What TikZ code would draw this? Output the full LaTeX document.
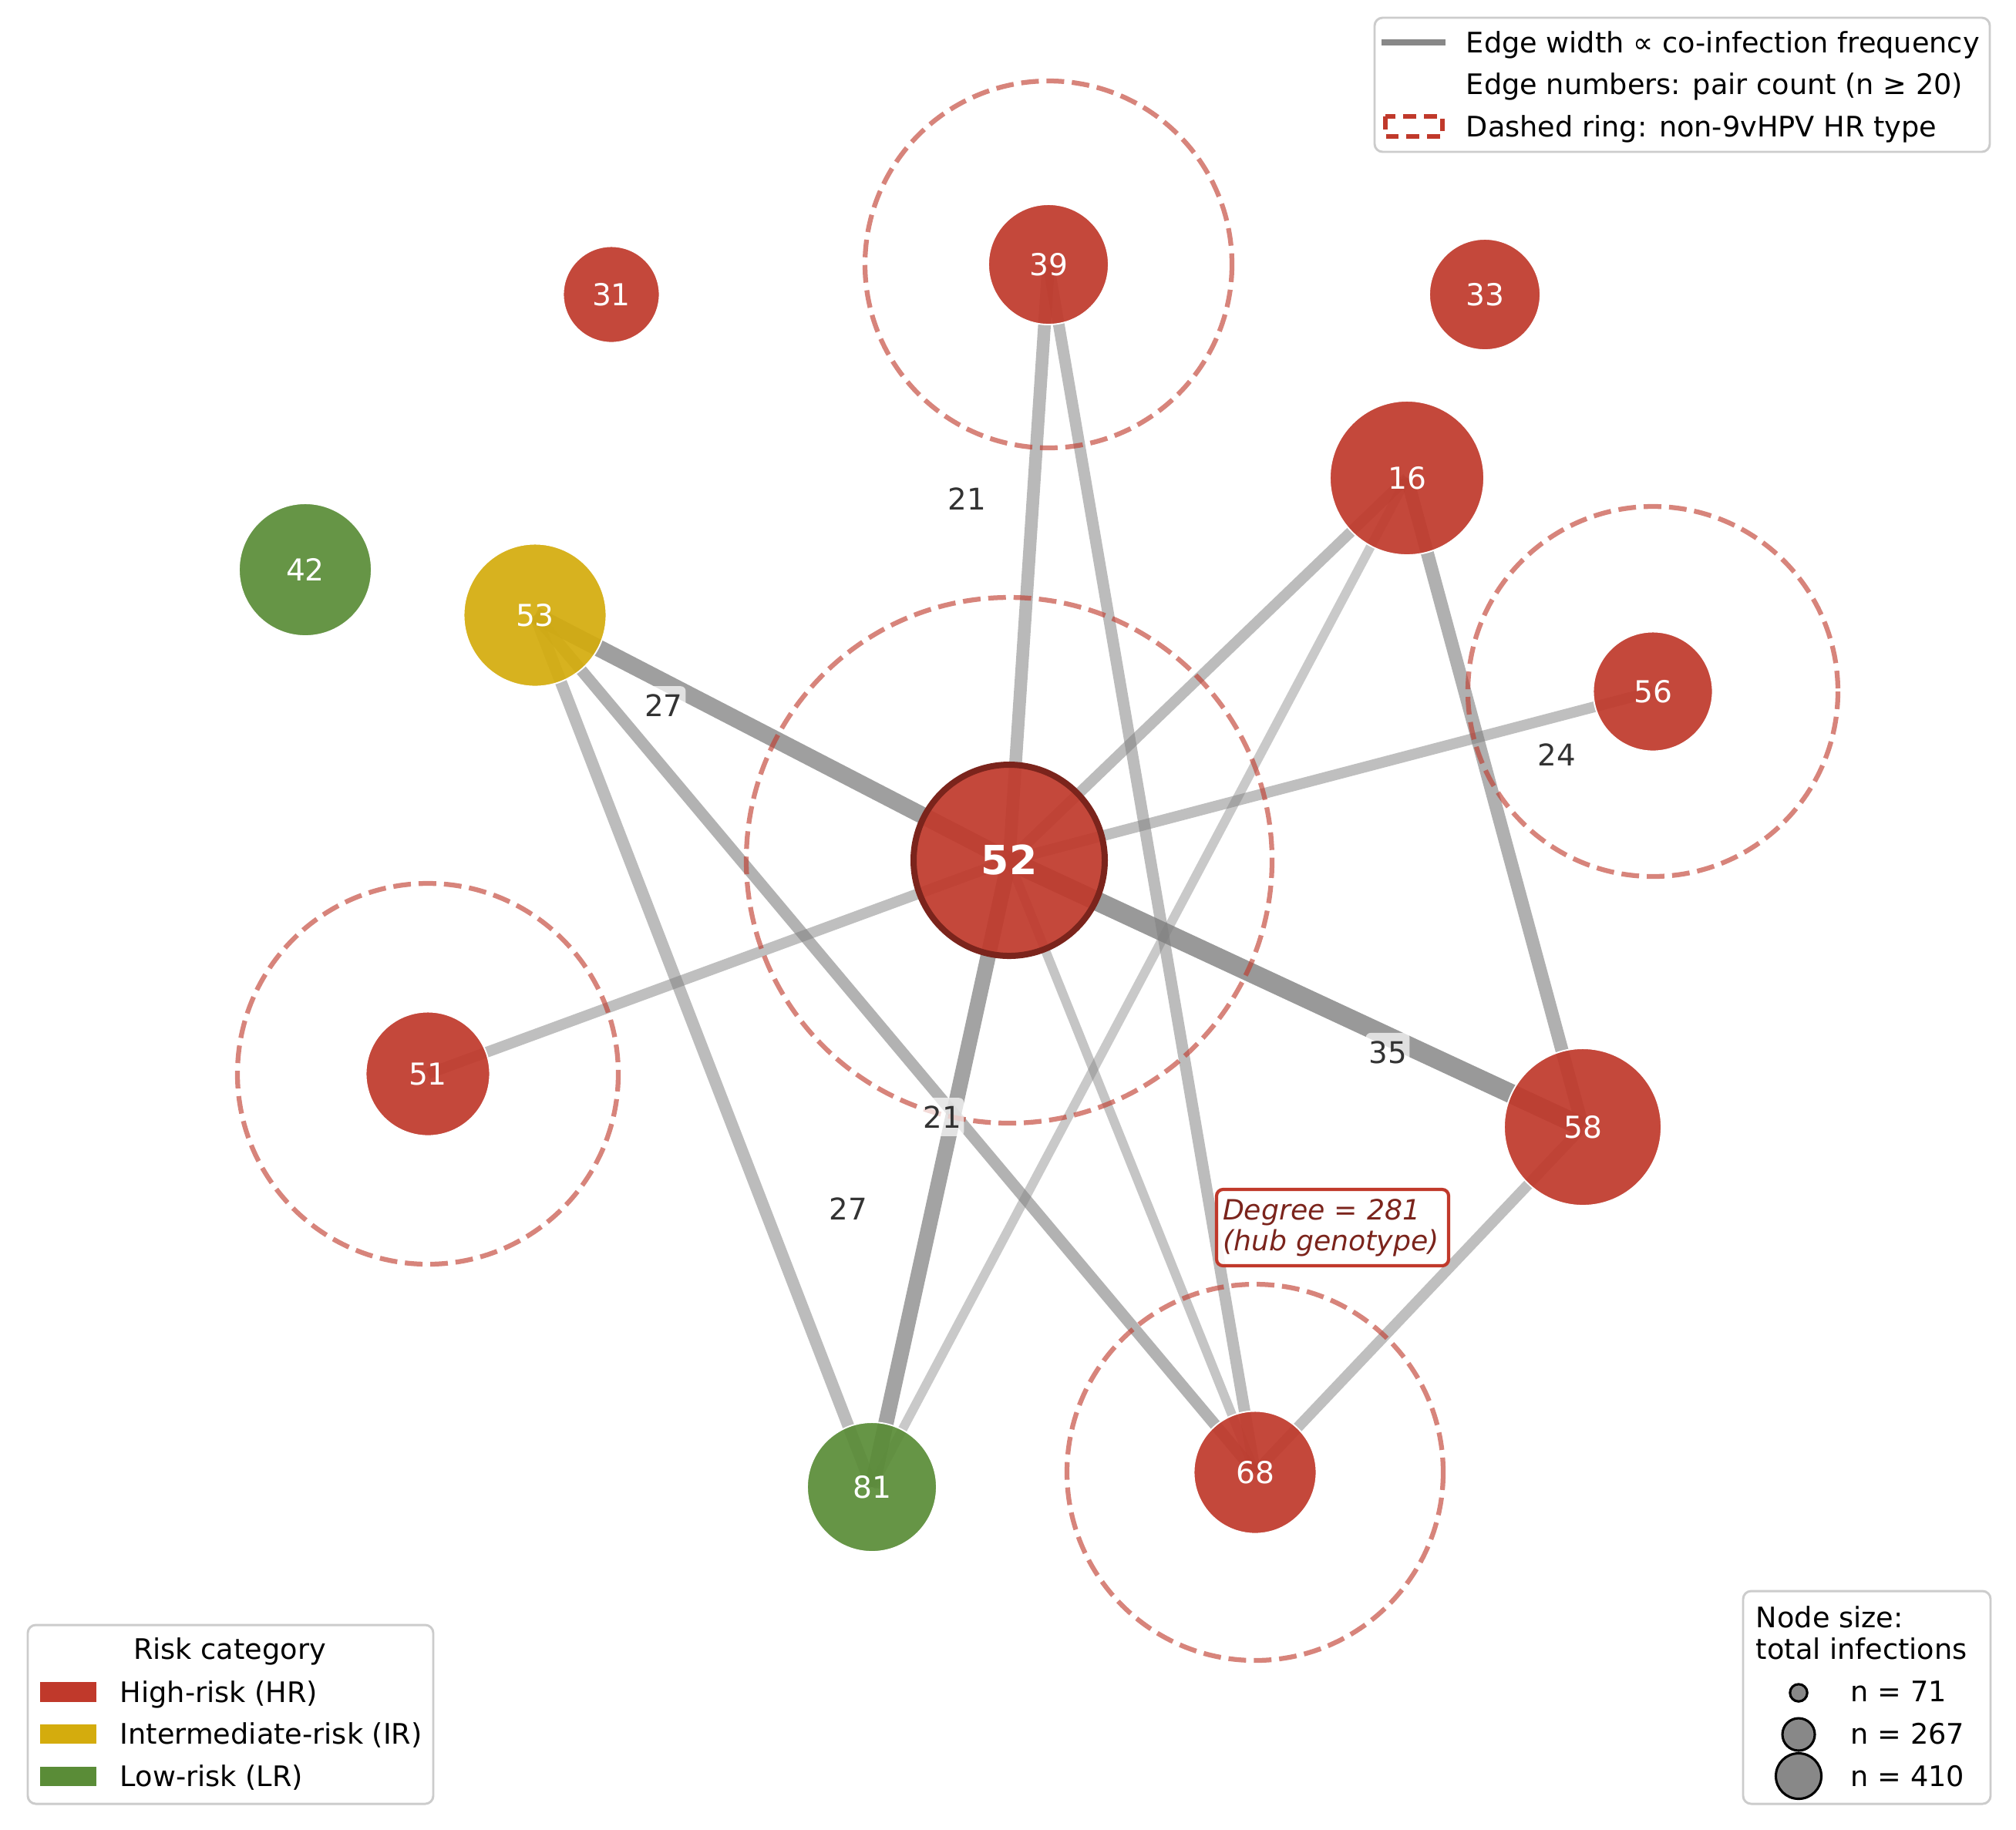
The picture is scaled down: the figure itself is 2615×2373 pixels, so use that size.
\documentclass[tikz,border=0pt]{standalone}
\usepackage{fontspec}
\setmainfont{DejaVu Sans}
\newcommand{\pxs}{*0.24pt}
\definecolor{hr}{HTML}{C0392B}
\definecolor{ir}{HTML}{D4AC0D}
\definecolor{lr}{HTML}{5A8C37}
\definecolor{hrdark}{HTML}{7B241C}
\definecolor{edgegray}{HTML}{808080}
\definecolor{handlegray}{HTML}{888888}
\definecolor{labeltext}{HTML}{333333}
\definecolor{legframe}{HTML}{CCCCCC}
\pgfdeclarelayer{bg}
\pgfdeclarelayer{edgelayer}
\pgfsetlayers{bg,edgelayer,main}
\tikzset{
  gnode/.style={circle, inner sep=0pt, draw=white, line width=0.45pt, fill opacity=0.92, text opacity=1, text=white, font=\fontsize{9.4}{11}\selectfont},
  hrnode/.style={gnode, fill=hr},
  irnode/.style={gnode, fill=ir},
  lrnode/.style={gnode, fill=lr},
  coedge/.style={draw=edgegray, line cap=butt},
  hrring/.style={draw=hr, draw opacity=0.62, line width=1.5pt, dash pattern=on 5.5pt off 2.4pt},
  elabel/.style={fill=white, fill opacity=0.7, text opacity=1, text=labeltext, rounded corners=1.5pt, inner xsep=0.9pt, inner ysep=2.5pt, font=\fontsize{9.3}{11}\selectfont},
  legbox/.style={draw=legframe, line width=0.7pt, fill=white, fill opacity=0.8, rounded corners=2.5pt},
  legtext/.style={anchor=base west, inner sep=0pt, font=\fontsize{8.8}{10.5}\selectfont},
  degbox/.style={draw=hr, line width=1pt, fill=white, fill opacity=0.9, text opacity=1, text=hrdark, rounded corners=2pt, align=left, inner xsep=8\pxs, inner ysep=2pt, font=\fontsize{8.7}{9.6}\selectfont\itshape},
  sizedot/.style={circle, inner sep=0pt, draw=black, line width=0.75pt, fill=handlegray},
}
\begin{document}
\begin{tikzpicture}[x=0.24pt, y=-0.24pt]
\useasboundingbox (0,0) rectangle (2615,2373);
\begin{pgfonlayer}{bg}
\fill[white] (0,0) rectangle (2615,2373);
\end{pgfonlayer}

% ---------- genotype nodes ----------
\node[hrnode, draw=hrdark, line width=8\pxs, minimum size=248\pxs, font=\fontsize{12.5}{15}\selectfont\bfseries] (n52) at (1309,1116) {52};
\node[hrnode, minimum size=156\pxs] (n39) at (1360,343) {39};
\node[hrnode, minimum size=125\pxs] (n31) at (793,382) {31};
\node[hrnode, minimum size=144\pxs] (n33) at (1926,382) {33};
\node[hrnode, minimum size=200\pxs] (n16) at (1825,620) {16};
\node[lrnode, minimum size=172\pxs] (n42) at (396,739) {42};
\node[irnode, minimum size=185\pxs] (n53) at (694,798) {53};
\node[hrnode, minimum size=155\pxs] (n56) at (2144,897) {56};
\node[hrnode, minimum size=161\pxs] (n51) at (555,1393) {51};
\node[hrnode, minimum size=204\pxs] (n58) at (2053,1462) {58};
\node[lrnode, minimum size=168\pxs] (n81) at (1131,1929) {81};
\node[hrnode, minimum size=159\pxs] (n68) at (1628,1910) {68};

% ---------- co-infection edges ----------
\begin{pgfonlayer}{edgelayer}
\draw[coedge, line width=25\pxs, draw opacity=0.80] (n52.center) -- (n58.center);
\draw[coedge, line width=22\pxs, draw opacity=0.75] (n53.center) -- (n52.center);
\draw[coedge, line width=20\pxs, draw opacity=0.72] (n52.center) -- (n81.center);
\draw[coedge, line width=16.5\pxs, draw opacity=0.55] (n39.center) -- (n52.center);
\draw[coedge, line width=17\pxs, draw opacity=0.62] (n16.center) -- (n58.center);
\draw[coedge, line width=15\pxs, draw opacity=0.52] (n39.center) -- (n68.center);
\draw[coedge, line width=15.5\pxs, draw opacity=0.52] (n53.center) -- (n81.center);
\draw[coedge, line width=15\pxs, draw opacity=0.60] (n53.center) -- (n68.center);
\draw[coedge, line width=14\pxs, draw opacity=0.52] (n52.center) -- (n16.center);
\draw[coedge, line width=14\pxs, draw opacity=0.50] (n52.center) -- (n56.center);
\draw[coedge, line width=14\pxs, draw opacity=0.50] (n52.center) -- (n51.center);
\draw[coedge, line width=14\pxs, draw opacity=0.50] (n58.center) -- (n68.center);
\draw[coedge, line width=12\pxs, draw opacity=0.42] (n16.center) -- (n81.center);
\draw[coedge, line width=12\pxs, draw opacity=0.45] (n52.center) -- (n68.center);
\end{pgfonlayer}

% ---------- dashed rings (non-9vHPV HR types) ----------
\draw[hrring] (n39.center) circle[radius=238];
\draw[hrring] (n52.center) circle[radius=341];
\draw[hrring] (n56.center) circle[radius=240];
\draw[hrring] (n51.center) circle[radius=247];
\draw[hrring] (n68.center) circle[radius=244];

% ---------- edge labels ----------
\node[elabel] (e1) at (1254,647) {21};
\node[elabel] (e2) at (861,915) {27};
\node[elabel] (e3) at (2019,979) {24};
\node[elabel] (e4) at (1800,1365) {35};
\node[elabel] (e5) at (1222,1449) {21};
\node[elabel] (e6) at (1100,1568) {27};

% ---------- hub annotation ----------
\node[degbox, text width=285\pxs, minimum height=99\pxs] (deg) at (1728.5,1592.5) {Degree = 281\\(hub genotype)};

% ---------- legend: edges ----------
\draw[legbox] (1783,23) rectangle (2581,197);
\coordinate (h1a) at (1792,55);
\coordinate (h1b) at (1875,55);
\draw[draw=handlegray, line width=8\pxs] (h1a) -- (h1b);
\draw[draw=hr, line width=1.45pt, dash pattern=on 4pt off 2.4pt] (1797,151) rectangle (1871,177);
\node[legtext] (t1) at (1901,68) {Edge width ∝ co-infection frequency};
\node[legtext] (t2) at (1901,122) {Edge numbers: pair count (n ≥ 20)};
\node[legtext] (t3) at (1901,177) {Dashed ring: non-9vHPV HR type};

% ---------- legend: risk category ----------
\draw[legbox] (36,2108) rectangle (562,2340);
\node[legtext, anchor=base] (rt) at (298,2152) {Risk category};
\fill[hr] (52,2182) rectangle (125,2208);
\fill[ir] (52,2237) rectangle (125,2262);
\fill[lr] (52,2292) rectangle (125,2317);
\node[legtext] (r1) at (155,2208) {High-risk (HR)};
\node[legtext] (r2) at (155,2262) {Intermediate-risk (IR)};
\node[legtext] (r3) at (155,2317) {Low-risk (LR)};

% ---------- legend: node size ----------
\draw[legbox] (2261,2064) rectangle (2582,2340);
\node[legtext] (s0) at (2277,2111) {Node size:};
\node[legtext] (s00) at (2277,2152) {total infections};
\node[sizedot, minimum size=22.4\pxs] (d1) at (2333,2196) {};
\node[sizedot, minimum size=42\pxs] (d2) at (2333,2250) {};
\node[sizedot, minimum size=59\pxs] (d3) at (2333,2304) {};
\node[legtext] (s1) at (2400,2207) {n = 71};
\node[legtext] (s2) at (2400,2262) {n = 267};
\node[legtext] (s3) at (2400,2317) {n = 410};
\end{tikzpicture}
\end{document}
